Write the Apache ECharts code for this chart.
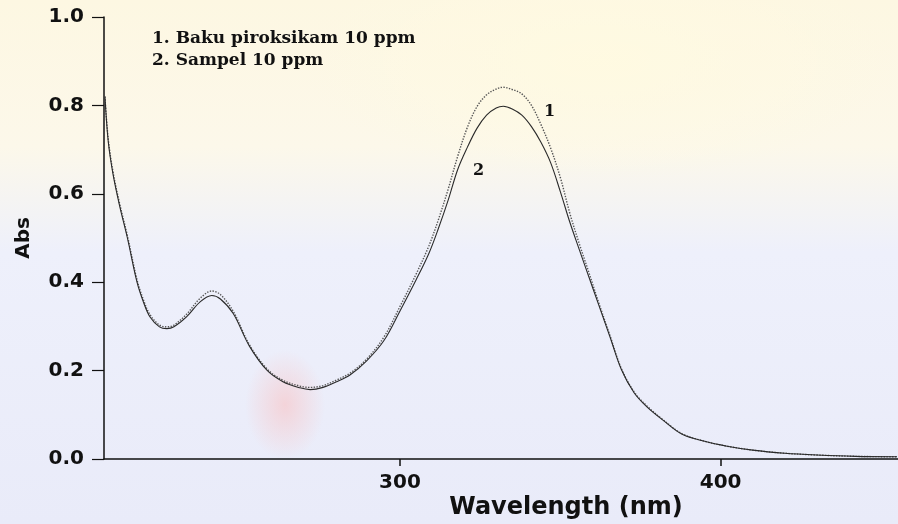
<!DOCTYPE html>
<html><head><meta charset="utf-8">
<script src="https://cdn.jsdelivr.net/npm/echarts@6/dist/echarts.min.js"></script>
<style>
html,body{margin:0;padding:0;overflow:hidden;}
#bg{position:absolute;left:0;top:0;width:898px;height:524px;
background:
 radial-gradient(ellipse 40px 55px at 285px 405px, rgba(250,190,190,0.55) 0%, rgba(250,190,190,0) 100%),
 radial-gradient(ellipse 300px 120px at 600px 60px, rgba(255,250,225,0.9) 0%, rgba(255,250,225,0) 100%),
 linear-gradient(to bottom, #fdf7e2 0%, #fcf8ea 28%, #eef0fb 48%, #e9ebf9 100%);}
#chart{position:absolute;left:0;top:0;width:898px;height:524px;}
</style></head>
<body><div id="bg"></div><div id="chart"></div>
<script>
// wavelength (nm) shared by both spectra
const wavelength = [208, 209, 210.5, 212.5, 215, 218, 220, 222, 225, 227.3, 229.5, 233.5, 237.6, 241.3, 244, 248, 253, 258.5, 263.5, 268.8, 272, 276, 280, 284.4, 289.6, 295, 300, 305, 309, 312, 315, 318, 321, 324, 327, 330, 332.2, 335, 338, 341, 344, 347, 350, 353, 356, 359, 362, 365.5, 369, 373, 377, 382, 388, 395, 402, 410, 420, 430, 442, 455];
// 1. Baku piroksikam 10 ppm
const bakuAbs = [0.82, 0.725, 0.65, 0.58, 0.505, 0.405, 0.36, 0.327, 0.303, 0.299, 0.303, 0.328, 0.363, 0.38, 0.372, 0.334, 0.259, 0.204, 0.178, 0.165, 0.162, 0.166, 0.178, 0.194, 0.226, 0.276, 0.345, 0.418, 0.482, 0.542, 0.61, 0.685, 0.75, 0.797, 0.824, 0.837, 0.841, 0.836, 0.826, 0.8, 0.756, 0.703, 0.637, 0.555, 0.485, 0.42, 0.353, 0.279, 0.205, 0.152, 0.12, 0.089, 0.057, 0.04, 0.029, 0.02, 0.013, 0.009, 0.006, 0.005];
// 2. Sampel 10 ppm
const sampelAbs = [0.82, 0.72, 0.645, 0.575, 0.5, 0.4, 0.355, 0.322, 0.299, 0.295, 0.299, 0.322, 0.355, 0.37, 0.362, 0.329, 0.256, 0.201, 0.175, 0.161, 0.157, 0.162, 0.174, 0.19, 0.222, 0.268, 0.335, 0.405, 0.465, 0.522, 0.585, 0.655, 0.705, 0.748, 0.778, 0.794, 0.798, 0.792, 0.778, 0.752, 0.716, 0.67, 0.605, 0.535, 0.472, 0.41, 0.348, 0.276, 0.203, 0.15, 0.118, 0.088, 0.056, 0.04, 0.029, 0.02, 0.013, 0.009, 0.006, 0.005];
const xTickValues = [300, 400];
const legendLines = ['1. Baku piroksikam 10 ppm', '2. Sampel 10 ppm'];
const curveTags = ['1', '2'];

const chart = echarts.init(document.getElementById('chart'), null, {renderer: 'canvas'});
const axisFont = {fontFamily: 'DejaVu Sans', fontWeight: 'bold', fontSize: 20, color: '#111'};
const option = {
  backgroundColor: 'transparent',
  animation: false,
  grid: {left: 104, right: 0, top: 17, bottom: 65},
  xAxis: {
    type: 'value', min: 207.7, max: 455.3,
    axisLine: {show: true, lineStyle: {color: '#111', width: 1.5}},
    axisTick: {show: true, customValues: xTickValues, length: 7, lineStyle: {color: '#111', width: 1.5}},
    axisLabel: {customValues: xTickValues, margin: 14, ...axisFont},
    splitLine: {show: false}
  },
  yAxis: {
    type: 'value', min: 0, max: 1, interval: 0.2,
    name: 'Abs', nameLocation: 'middle', nameGap: 70, nameRotate: 90,
    nameTextStyle: {fontFamily: 'DejaVu Sans', fontWeight: 'bold', fontSize: 20, color: '#111'},
    axisLine: {show: true, lineStyle: {color: '#111', width: 1.5}},
    axisTick: {show: true, length: 12, lineStyle: {color: '#111', width: 1.2}},
    axisLabel: {margin: 20, formatter: v => v.toFixed(1), ...axisFont},
    splitLine: {show: false}
  },
  graphic: [
    {type: 'text', left: 152, top: 30, style: {text: legendLines[0], font: 'bold 17px "DejaVu Serif"', fill: '#111'}},
    {type: 'text', left: 152, top: 52, style: {text: legendLines[1], font: 'bold 17px "DejaVu Serif"', fill: '#111'}},
    {type: 'text', left: 544, top: 104, style: {text: curveTags[0], font: 'bold 16px "DejaVu Serif"', fill: '#111'}},
    {type: 'text', left: 473, top: 163, style: {text: curveTags[1], font: 'bold 16px "DejaVu Serif"', fill: '#111'}},
    {type: 'text', x: 566, y: 508, style: {text: 'Wavelength (nm)', font: 'bold 24px "DejaVu Sans"', fill: '#111', align: 'center', verticalAlign: 'middle'}}
  ],
  series: [
    {
      name: legendLines[0], type: 'line', showSymbol: false, smooth: 0.35,
      data: wavelength.map((w, i) => [w, bakuAbs[i]]),
      lineStyle: {color: '#555', width: 1.4, type: 'dotted'}
    },
    {
      name: legendLines[1], type: 'line', showSymbol: false, smooth: 0.35,
      data: wavelength.map((w, i) => [w, sampelAbs[i]]),
      lineStyle: {color: '#2a2a2a', width: 1.1}
    }
  ]
};
chart.setOption(option);
</script>
</body></html>
